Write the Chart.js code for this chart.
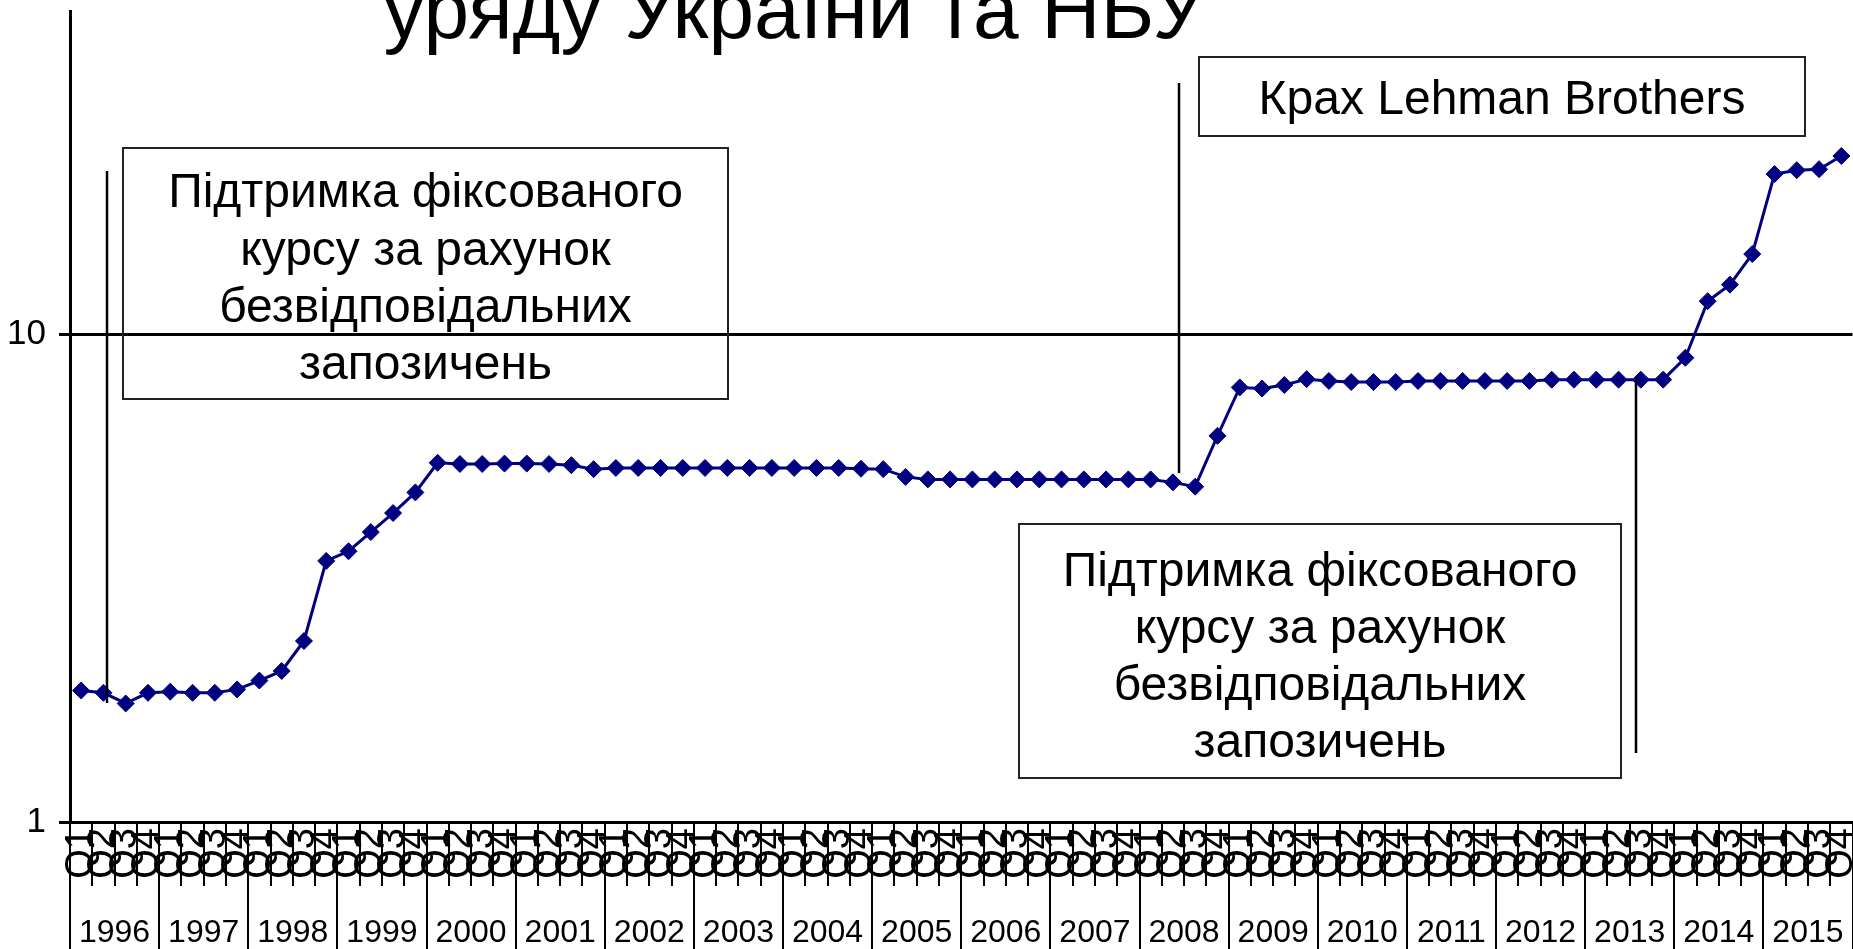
<!DOCTYPE html>
<html><head><meta charset="utf-8">
<script src="https://cdn.jsdelivr.net/npm/chart.js@4/dist/chart.umd.min.js"></script>
<style>
html,body{margin:0;padding:0;background:#fff;overflow:hidden;}
#wrap{position:absolute;left:0;top:0;width:1862px;height:949px;}
</style></head><body>
<div id="wrap"><canvas id="c"></canvas></div>
<script>
const years = [1996,1997,1998,1999,2000,2001,2002,2003,2004,2005,2006,2007,2008,2009,2010,2011,2012,2013,2014,2015];
const quarterNames = ['Q1','Q2','Q3','Q4'];
const reserveValues = [
  1.86, 1.84, 1.75, 1.84,
  1.85, 1.84, 1.84, 1.87,
  1.95, 2.04, 2.35, 3.43,
  3.59, 3.93, 4.30, 4.74,
  5.45, 5.42, 5.42, 5.43,
  5.43, 5.42, 5.39, 5.29,
  5.32, 5.32, 5.32, 5.32,
  5.32, 5.32, 5.32, 5.32,
  5.32, 5.32, 5.32, 5.30,
  5.29, 5.10, 5.04, 5.04,
  5.04, 5.04, 5.04, 5.04,
  5.04, 5.04, 5.04, 5.04,
  5.04, 4.97, 4.87, 6.19,
  7.78, 7.74, 7.87, 8.09,
  8.02, 7.98, 7.98, 7.98,
  8.02, 8.02, 8.02, 8.02,
  8.02, 8.02, 8.07, 8.07,
  8.07, 8.07, 8.07, 8.07,
  8.95, 11.69, 12.64, 14.6,
  21.3, 21.7, 21.8, 23.2
];
const yTickValues = [1, 10];
const titleText = 'уряду України та НБУ';
const noteBoxes = [
  { lines: ['Підтримка фіксованого', 'курсу за рахунок', 'безвідповідальних', 'запозичень'] },
  { lines: ['Крах Lehman Brothers'] },
  { lines: ['Підтримка фіксованого', 'курсу за рахунок', 'безвідповідальних', 'запозичень'] }
];

const FONT = '"Liberation Sans", Arial, sans-serif';
const labels = [];
years.forEach(yr => quarterNames.forEach(q => labels.push(q)));

// layout of annotations (pixels / category positions)
const boxLayout = [
  { x0: 123, y0: 148, x1: 728, y1: 399, lineY: [194, 252, 309, 366] },
  { x0: 1199, y0: 57, x1: 1805, y1: 136, lineY: [101] },
  { x0: 1019, y0: 524, x1: 1621, y1: 778, lineY: [573, 630, 687, 744] }
];
const markerLayout = [
  { at: 1.16, y0: 171, y1: 703 },
  { at: 49.28, y0: 83, y1: 473 },
  { at: 69.78, y0: 380, y1: 753 }
];

const decor = {
  id: 'decor',
  afterDraw(chart) {
    const { ctx, chartArea, scales: { x } } = chart;
    ctx.save();
    ctx.strokeStyle = '#000';
    ctx.lineWidth = 2;
    const n = labels.length;
    for (let k = 0; k <= n; k++) {
      const px = Math.round(x.getPixelForValue(k - 0.5));
      const yearEdge = k % 4 === 0;
      ctx.beginPath();
      ctx.moveTo(px, chartArea.bottom);
      ctx.lineTo(px, yearEdge ? chart.height : chartArea.bottom + 64);
      ctx.stroke();
    }
    ctx.fillStyle = '#000';
    ctx.font = '32px ' + FONT;
    ctx.textAlign = 'center';
    ctx.textBaseline = 'alphabetic';
    years.forEach((yr, i) => ctx.fillText(String(yr), x.getPixelForValue(i * 4 + 1.5), 942));

    // marker lines
    ctx.lineWidth = 2.5;
    markerLayout.forEach(m => {
      const px = Math.round(x.getPixelForValue(m.at));
      ctx.beginPath(); ctx.moveTo(px, m.y0); ctx.lineTo(px, m.y1); ctx.stroke();
    });
    // boxes
    ctx.strokeStyle = '#222';
    ctx.lineWidth = 2;
    ctx.font = '48px ' + FONT;
    ctx.textBaseline = 'middle';
    noteBoxes.forEach((b, i) => {
      const L = boxLayout[i];
      ctx.strokeRect(L.x0, L.y0, L.x1 - L.x0, L.y1 - L.y0);
      const cx = (L.x0 + L.x1) / 2;
      b.lines.forEach((t, j) => ctx.fillText(t, cx, L.lineY[j]));
    });
    // title (cropped at top)
    ctx.font = '82px ' + FONT;
    ctx.textBaseline = 'alphabetic';
    ctx.fillText(titleText, 794, 38);
    ctx.restore();
  }
};

new Chart(document.getElementById('c'), {
  type: 'line',
  data: {
    labels: labels,
    datasets: [{
      data: reserveValues,
      borderColor: '#000080',
      backgroundColor: '#000080',
      borderWidth: 3,
      pointStyle: 'rectRot',
      pointRadius: 8.5,
      pointBorderWidth: 1,
      pointBackgroundColor: '#000080',
      pointBorderColor: '#000080',
      tension: 0,
      clip: false
    }]
  },
  options: {
    responsive: true,
    maintainAspectRatio: false,
    animation: false,
    layout: { padding: { top: 11, right: 5, left: 0, bottom: 0 } },
    plugins: { legend: { display: false }, tooltip: { enabled: false }, title: { display: false } },
    scales: {
      x: {
        type: 'category',
        offset: true,
        grid: { display: true, drawOnChartArea: false, drawTicks: false },
        border: { display: true, color: '#000', width: 3 },
        ticks: { autoSkip: false, minRotation: 90, maxRotation: 90, padding: 6, color: '#000', font: { family: FONT, size: 38 } },
        afterFit(s) { s.height = 127; s.paddingLeft = 0; s.paddingRight = 0; }
      },
      y: {
        type: 'logarithmic',
        min: 1,
        max: 46,
        afterBuildTicks(s) { s.ticks = yTickValues.map(v => ({ value: v })); },
        grid: { color: '#000', lineWidth: 3, tickLength: 11, drawOnChartArea: true },
        border: { display: true, color: '#000', width: 3 },
        ticks: { padding: 13, color: '#000', font: { family: FONT, size: 35 }, callback: v => String(v) },
        afterFit(s) { s.width = 70; s.paddingTop = 0; s.paddingBottom = 0; }
      }
    }
  },
  plugins: [decor]
});
</script>
</body></html>
